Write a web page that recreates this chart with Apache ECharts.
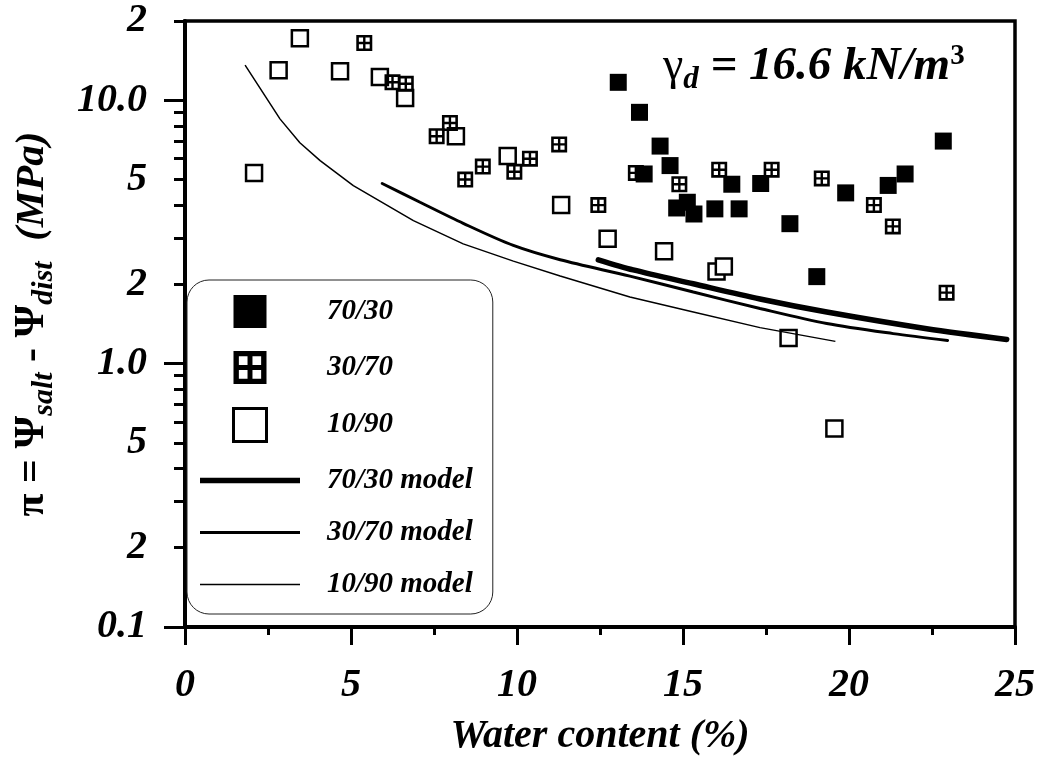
<!DOCTYPE html>
<html>
<head>
<meta charset="utf-8">
<script src="https://cdn.jsdelivr.net/npm/echarts@6/dist/echarts.min.js"></script>
<style>
html, body { margin: 0; padding: 0; background: #fff; }
#chart { width: 1043px; height: 762px; }
</style>
</head>
<body>
<div id="chart"></div>
<script>
// water content (%), pi (MPa)
var mix7030 = [[13.05, 11.7], [13.69, 9.0], [14.31, 6.7], [14.61, 5.65], [13.83, 5.25], [16.47, 4.8],
    [17.34, 4.83], [19.90, 4.45], [21.18, 4.75], [21.69, 5.25], [22.84, 7.0], [14.81, 3.9],
    [15.13, 4.1], [15.33, 3.7], [15.96, 3.87], [16.69, 3.87], [18.22, 3.4], [19.03, 2.14]];
var mix3070 = [[5.40, 16.5], [6.25, 11.7], [6.65, 11.55], [7.98, 8.2], [7.58, 7.3], [8.97, 5.6],
    [8.44, 5.0], [9.92, 5.35], [10.39, 6.0], [11.27, 6.8], [12.45, 4.0], [13.58, 5.3],
    [14.89, 4.8], [16.09, 5.45], [17.67, 5.45], [19.18, 5.05], [20.75, 4.0], [21.32, 3.32], [22.94, 1.86]];
var mix1090 = [[3.46, 17.2], [2.82, 13.0], [4.67, 12.9], [5.87, 12.25], [6.63, 10.2], [8.16, 7.3],
    [2.08, 5.3], [9.72, 6.15], [11.33, 4.0], [12.73, 2.98], [14.43, 2.67], [16.01, 2.24],
    [16.23, 2.34], [18.18, 1.25], [19.56, 0.567]];

var model7030 = [[12.45, 2.48], [13.5, 2.27], [15.31, 2.01], [17.32, 1.76], [19.33, 1.57], [22.34, 1.357], [24.75, 1.236]];
var model3070 = [[5.94, 4.83], [7.08, 4.10], [8.38, 3.41], [9.89, 2.81], [11.30, 2.48], [13.40, 2.15],
    [15.31, 1.87], [17.32, 1.62], [19.33, 1.42], [21.33, 1.30], [22.97, 1.225]];
var model1090 = [[1.81, 13.6], [2.86, 8.5], [3.46, 6.9], [4.07, 5.9], [5.07, 4.74], [6.88, 3.49], [8.38, 2.85],
    [9.89, 2.45], [11.30, 2.15], [13.40, 1.79], [15.31, 1.57], [17.32, 1.37], [19.59, 1.215]];

var yLabelValues = [0.1, 0.2, 0.5, 1, 2, 5, 10, 20];
var yLabelText = ['0.1', '2', '5', '1.0', '2', '5', '10.0', '2'];
var yMinorTicks = [0.2, 0.3, 0.4, 0.5, 0.6, 0.7, 0.8, 0.9, 2, 3, 4, 5, 6, 7, 8, 9, 20];
var yDecadeTicks = [0.1, 1, 10];

var FONT = '"Liberation Serif", "Times New Roman", serif';
var square = 'path://M0 0H16V16H0Z';
// square with a cross inside
var gridSquare = 'path://M0 0H16V16H0Z M2.6 2.6V6.8H6.8V2.6Z M9.2 2.6V6.8H13.4V2.6Z M2.6 9.2V13.4H6.8V9.2Z M9.2 9.2V13.4H13.4V9.2Z';

var myChart = echarts.init(document.getElementById('chart'));

function yFmt(v) {
    for (var i = 0; i < yLabelValues.length; i++) {
        if (Math.abs(v - yLabelValues[i]) < yLabelValues[i] * 0.01) return yLabelText[i];
    }
    return '';
}

var option = {
    backgroundColor: '#fff',
    animation: false,
    grid: {
        left: 185, right: 28, top: 21, bottom: 135,
        show: true, borderColor: '#000', borderWidth: 3.5
    },
    legend: {
        orient: 'vertical',
        left: 187, top: 280,
        padding: [15, 20, 15, 13],
        itemWidth: 100, itemHeight: 33, itemGap: 23,
        borderColor: '#222', borderWidth: 1, borderRadius: 22,
        backgroundColor: '#fff',
        textStyle: { fontFamily: FONT, fontSize: 29, fontStyle: 'italic', fontWeight: 'bold', color: '#000', padding: [0, 0, 0, 22] },
        data: [
            { name: '70/30', icon: square },
            { name: '30/70', icon: gridSquare },
            { name: '10/90', icon: square, itemStyle: { color: '#fff', borderColor: '#000', borderWidth: 3 } },
            { name: '70/30 model', icon: 'path://M0 0H100V5.5H0Z', itemStyle: { color: '#000' } },
            { name: '30/70 model', icon: 'path://M0 0H100V3H0Z', itemStyle: { color: '#000' } },
            { name: '10/90 model', icon: 'path://M0 0H100V1.5H0Z', itemStyle: { color: '#000' } }
        ]
    },
    xAxis: {
        type: 'value', min: 0, max: 25, interval: 5,
        name: 'Water content (%)', nameLocation: 'middle', nameGap: 90,
        nameTextStyle: { fontFamily: FONT, fontSize: 40, fontStyle: 'italic', fontWeight: 'bold', color: '#000' },
        axisLine: { lineStyle: { color: '#000', width: 4 } },
        axisTick: { length: 18, lineStyle: { width: 3, color: '#000' } },
        minorTick: { show: true, splitNumber: 2, length: 8, lineStyle: { width: 3, color: '#000' } },
        splitLine: { show: false },
        axisLabel: { margin: 39, fontFamily: FONT, fontSize: 40, fontStyle: 'italic', fontWeight: 'bold', color: '#000' }
    },
    yAxis: [{
        type: 'log', logBase: 10, min: 0.1, max: 20, position: 'left',
        name: '{b|π = Ψ}{s|salt}{b| - Ψ}{s|dist}{i|  (MPa)}',
        nameLocation: 'middle', nameRotate: 90, nameGap: 126,
        nameTextStyle: {
            rich: {
                b: { fontFamily: FONT, fontSize: 42, fontWeight: 'bold', color: '#000' },
                s: { fontFamily: FONT, fontSize: 30, fontWeight: 'bold', fontStyle: 'italic', color: '#000', padding: [24, 0, 0, 0] },
                i: { fontFamily: FONT, fontSize: 41, fontWeight: 'bold', fontStyle: 'italic', color: '#000' }
            }
        },
        axisLine: { lineStyle: { color: '#000', width: 4 } },
        axisTick: { customValues: yMinorTicks, length: 11, lineStyle: { width: 3, color: '#000' } },
        splitLine: { show: false },
        axisLabel: {
            customValues: yLabelValues, margin: 38, formatter: yFmt,
            fontFamily: FONT, fontSize: 40, fontStyle: 'italic', fontWeight: 'bold', color: '#000'
        }
    }, {
        type: 'log', logBase: 10, min: 0.1, max: 20, position: 'left', offset: 0,
        axisLine: { show: false },
        axisTick: { customValues: yDecadeTicks, length: 21, lineStyle: { width: 3, color: '#000' } },
        axisLabel: { show: false },
        splitLine: { show: false }
    }],
    graphic: [{
        type: 'text', left: 663, top: 42, z: 10,
        style: {
            text: '{g|γ}{d|d}{t| = 16.6 kN/m}{p|3}',
            rich: {
                g: { fontFamily: FONT, fontSize: 46, color: '#000' },
                d: { fontFamily: FONT, fontSize: 31, fontStyle: 'italic', fontWeight: 'bold', color: '#000', padding: [26, 0, 0, 0] },
                t: { fontFamily: FONT, fontSize: 47, fontStyle: 'italic', fontWeight: 'bold', color: '#000' },
                p: { fontFamily: FONT, fontSize: 29, fontWeight: 'bold', color: '#000', padding: [0, 0, 20, 0] }
            }
        }
    }],
    series: [
        {
            name: '70/30 model', type: 'line', data: model7030, symbol: 'none', smooth: 0.3,
            lineStyle: { color: '#000', width: 5.5, cap: 'round' }, itemStyle: { color: '#000' }
        },
        {
            name: '30/70 model', type: 'line', data: model3070, symbol: 'none', smooth: 0.3,
            lineStyle: { color: '#000', width: 3, cap: 'round' }, itemStyle: { color: '#000' }
        },
        {
            name: '10/90 model', type: 'line', data: model1090, symbol: 'none',
            lineStyle: { color: '#000', width: 1.5 }, itemStyle: { color: '#000' }
        },
        {
            name: '10/90', type: 'scatter', data: mix1090, symbol: 'rect', symbolSize: 16,
            itemStyle: { color: '#fff', borderColor: '#000', borderWidth: 2.5, opacity: 1 }
        },
        {
            name: '30/70', type: 'scatter', data: mix3070, symbol: gridSquare, symbolSize: 16,
            itemStyle: { color: '#000', opacity: 1 }
        },
        {
            name: '70/30', type: 'scatter', data: mix7030, symbol: 'rect', symbolSize: 17,
            itemStyle: { color: '#000', opacity: 1 }
        }
    ]
};

myChart.setOption(option);
</script>
</body>
</html>
